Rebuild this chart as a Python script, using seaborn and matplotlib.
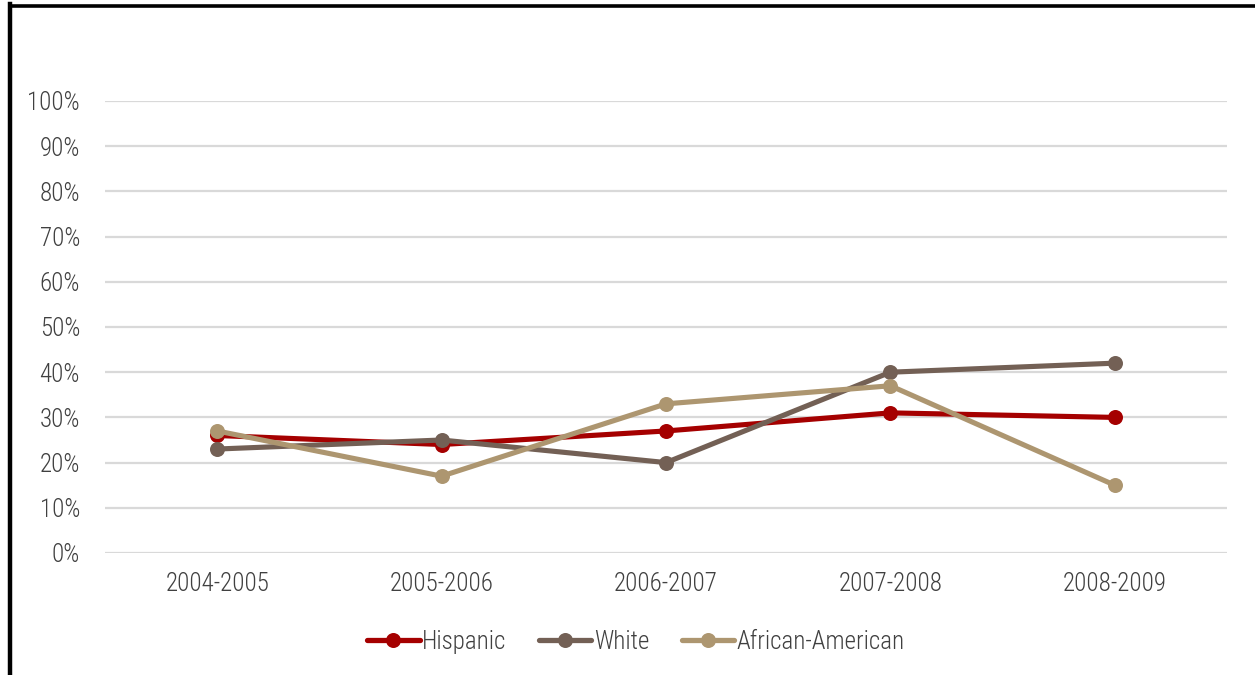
import matplotlib
matplotlib.use("Agg")
import matplotlib.pyplot as plt
from matplotlib.lines import Line2D
from matplotlib.ticker import FuncFormatter
import pandas as pd
import seaborn as sns

years = ["2004-2005", "2005-2006", "2006-2007", "2007-2008", "2008-2009"]
hispanic = [26, 24, 27, 31, 30]
white = [23, 25, 20, 40, 42]
african_american = [27, 17, 33, 37, 15]
groups = ["Hispanic", "White", "African-American"]
colors = ["#A50000", "#736055", "#AD9670"]

df = pd.concat([
    pd.DataFrame({"year": years, "value": vals, "group": name})
    for name, vals in zip(groups, [hispanic, white, african_american])
], ignore_index=True)

sns.set_theme(style="white")
plt.rcParams["font.family"] = ["Roboto Condensed", "Archivo Narrow", "DejaVu Sans"]
plt.rcParams["font.weight"] = 300
text_color = "#404040"
fs = 18

fig = plt.figure(figsize=(12.55, 6.75), dpi=100)
ax = fig.add_axes([105 / 1255, 1 - 553 / 675, (1227 - 105) / 1255, (553 - 101) / 675])

sns.lineplot(data=df, x="year", y="value", hue="group", hue_order=groups,
             palette=colors, marker="o", markersize=10.8, markeredgewidth=0,
             linewidth=3.7, sort=False, ax=ax, legend=False)

ax.set_xlim(-0.5, len(years) - 0.5)
ax.set_ylim(0, 100)
ax.set_yticks(range(0, 101, 10))
ax.yaxis.set_major_formatter(FuncFormatter(lambda v, _: f"{v:.0f}%"))
ax.grid(axis="y", color="#d9d9d9", linewidth=1.6)
ax.grid(axis="x", visible=False)
ax.set_axisbelow(True)
for s in ax.spines.values():
    s.set_visible(False)
ax.set_xlabel("")
ax.set_ylabel("")
ax.tick_params(axis="y", labelsize=fs, colors=text_color, pad=18, length=0)
ax.tick_params(axis="x", labelsize=fs, colors=text_color, pad=14, length=0)

handles = [Line2D([0], [0], color=c, linewidth=3.8, marker="o", markersize=10.8,
                  markeredgewidth=0) for c in colors]
fig.legend(handles, groups, loc="center", bbox_to_anchor=(636 / 1255, 1 - 642 / 675),
           ncol=3, frameon=False, fontsize=fs, labelcolor=text_color,
           handlelength=2.1, handletextpad=0.1, columnspacing=1.3)

# frame strokes along the left and top edges
fig.add_artist(Line2D([10 / 1255, 10 / 1255], [0, 1 - 4 / 675], color="black",
                      linewidth=3.2, transform=fig.transFigure, solid_capstyle="projecting"))
fig.add_artist(Line2D([10 / 1255, 1], [1 - 5.5 / 675, 1 - 5.5 / 675], color="black",
                      linewidth=2.6, transform=fig.transFigure))

fig.savefig("out.png", dpi=100, facecolor="white")
